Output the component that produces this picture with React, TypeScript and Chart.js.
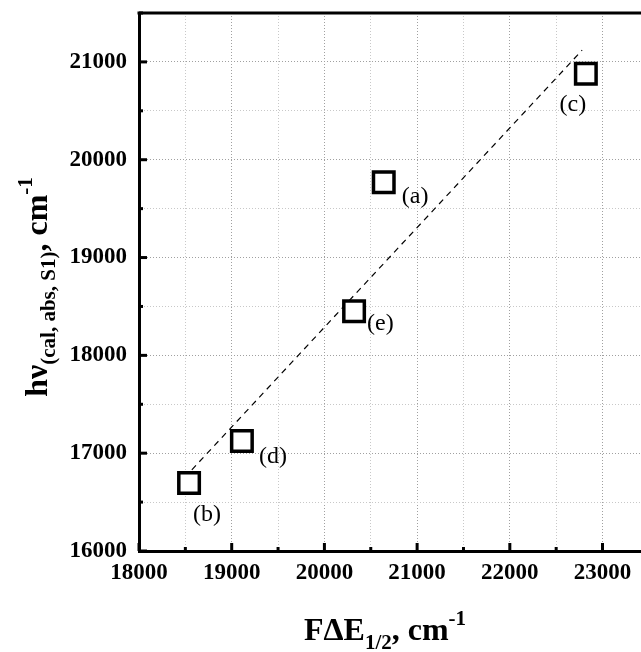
import React, { useEffect, useRef } from 'react';
import { Chart, registerables } from 'chart.js';

Chart.register(...registerables);

// ---- data ----
const pointNames = ['(a)', '(b)', '(c)', '(d)', '(e)'];
const xValues = [20640, 18540, 22820, 19110, 20320];
const yValues = [19770, 16695, 20880, 17125, 18450];
const fitX = [18570, 22780];
const fitY = [16830, 21120];
const xTickLabels = [18000, 19000, 20000, 21000, 22000, 23000];
const yTickLabels = [16000, 17000, 18000, 19000, 20000, 21000];
const X_MIN = 18000;
const X_MAX = 23415;
const Y_MIN = 16000;
const Y_MAX = 21500;
const MINOR_STEP = 500;

// ---- layout / style (not data) ----
const SERIF = "'Liberation Serif', 'Times New Roman', serif";
// label placement relative to marker centre: [dx, dy, align]
const labelPlacement: [number, number, CanvasTextAlign][] = [
  [18, 14, 'left'],
  [18, 32, 'center'],
  [-13, 31, 'center'],
  [17, 16, 'left'],
  [13, 12, 'left'],
];

type Part = { t: string; size: number; dy?: number };

function drawRich(ctx: CanvasRenderingContext2D, parts: Part[], cx: number, baseY: number) {
  let total = 0;
  const widths = parts.map((p) => {
    ctx.font = `bold ${p.size}px ${SERIF}`;
    const w = ctx.measureText(p.t).width;
    total += w;
    return w;
  });
  let x = cx - total / 2;
  ctx.textAlign = 'left';
  ctx.textBaseline = 'alphabetic';
  parts.forEach((p, i) => {
    ctx.font = `bold ${p.size}px ${SERIF}`;
    ctx.fillText(p.t, x, baseY + (p.dy || 0));
    x += widths[i];
  });
}

function buildTicks(majors: number[], max: number) {
  const out: { value: number; major: boolean }[] = [];
  majors.forEach((v) => {
    out.push({ value: v, major: true });
    if (v + MINOR_STEP <= max) out.push({ value: v + MINOR_STEP, major: false });
  });
  return out;
}

const decorPlugin = {
  id: 'decor',
  afterDatasetsDraw(chart: any) {
    const { ctx, chartArea } = chart;
    const xs = chart.scales.x;
    const ys = chart.scales.y;
    ctx.save();
    ctx.strokeStyle = '#000';
    ctx.lineWidth = 3;
    // top frame line
    ctx.beginPath();
    ctx.moveTo(chartArea.left - 1.5, chartArea.top);
    ctx.lineTo(chartArea.right + 2, chartArea.top);
    ctx.stroke();
    // inward ticks
    xs.ticks.forEach((t: any) => {
      const px = xs.getPixelForValue(t.value);
      const len = t.major ? 8 : 4;
      ctx.beginPath();
      ctx.moveTo(px, chartArea.bottom);
      ctx.lineTo(px, chartArea.bottom - len);
      ctx.stroke();
    });
    ys.ticks.forEach((t: any) => {
      const py = ys.getPixelForValue(t.value);
      const len = t.major ? 8 : 4;
      ctx.beginPath();
      ctx.moveTo(chartArea.left, py);
      ctx.lineTo(chartArea.left + len, py);
      ctx.stroke();
    });
    // point labels
    const meta = chart.getDatasetMeta(0);
    ctx.fillStyle = '#000';
    ctx.font = `24px ${SERIF}`;
    ctx.textBaseline = 'middle';
    meta.data.forEach((el: any, i: number) => {
      const [dx, dy, align] = labelPlacement[i];
      ctx.textAlign = align;
      ctx.fillText(pointNames[i], el.x + dx, el.y + dy);
    });
    // axis titles
    ctx.fillStyle = '#000';
    drawRich(
      ctx,
      [
        { t: 'FΔE', size: 32 },
        { t: '1/2', size: 21, dy: 9 },
        { t: ', cm', size: 32 },
        { t: '-1', size: 21, dy: -15 },
      ],
      385,
      640
    );
    ctx.save();
    ctx.translate(47, 287);
    ctx.rotate(-Math.PI / 2);
    drawRich(
      ctx,
      [
        { t: 'hν', size: 32 },
        { t: '(cal, abs, S1)', size: 21, dy: 8 },
        { t: ', cm', size: 32 },
        { t: '-1', size: 21, dy: -15 },
      ],
      0,
      0
    );
    ctx.restore();
    ctx.restore();
  },
};

export default function App() {
  const ref = useRef<HTMLCanvasElement>(null);
  useEffect(() => {
    const gridColor = (c: any) => (c.tick && c.tick.major ? '#a0a0a0' : '#c8c8c8');
    const tickFont = { family: SERIF, size: 23, weight: 'bold' };
    const chart = new Chart(ref.current!, {
      type: 'scatter',
      data: {
        datasets: [
          {
            data: xValues.map((x, i) => ({ x, y: yValues[i] })),
            pointStyle: 'rect',
            pointRadius: 14.5,
            pointHoverRadius: 14.5,
            pointBorderWidth: 3.5,
            borderColor: '#000',
            backgroundColor: '#fff',
            showLine: false,
            clip: false,
          },
          {
            data: fitX.map((x, i) => ({ x, y: fitY[i] })),
            showLine: true,
            borderColor: '#000',
            borderWidth: 1.2,
            borderDash: [6, 5],
            pointRadius: 0,
            fill: false,
          },
        ],
      },
      options: {
        responsive: false,
        animation: false,
        events: [],
        layout: { autoPadding: false, padding: { top: 13, right: 0, left: 0, bottom: 0 } },
        plugins: { legend: { display: false }, tooltip: { enabled: false } },
        scales: {
          x: {
            type: 'linear',
            min: X_MIN,
            max: X_MAX,
            afterBuildTicks: (s: any) => {
              s.ticks = buildTicks(xTickLabels, X_MAX);
            },
            afterFit: (s: any) => {
              s.height = 101;
              s.paddingLeft = 0;
              s.paddingRight = 0;
            },
            ticks: {
              autoSkip: false,
              maxRotation: 0,
              padding: 8,
              color: '#000',
              font: tickFont,
              callback: (v: any) => (xTickLabels.includes(Number(v)) ? String(v) : ''),
            },
            grid: { color: gridColor, lineWidth: 1, drawTicks: false },
            border: { display: true, color: '#000', width: 3, dash: [1, 2] },
          },
          y: {
            type: 'linear',
            min: Y_MIN,
            max: Y_MAX,
            afterBuildTicks: (s: any) => {
              s.ticks = buildTicks(yTickLabels, Y_MAX);
            },
            afterFit: (s: any) => {
              s.width = 139;
              s.paddingTop = 0;
              s.paddingBottom = 0;
            },
            ticks: {
              autoSkip: false,
              padding: 12,
              color: '#000',
              font: tickFont,
              callback: (v: any) => (yTickLabels.includes(Number(v)) ? String(v) : ''),
            },
            grid: { color: gridColor, lineWidth: 1, drawTicks: false },
            border: { display: true, color: '#000', width: 3, dash: [1, 2] },
          },
        },
      },
      plugins: [decorPlugin],
    } as any);
    return () => chart.destroy();
  }, []);
  return (
    <div style={{ position: 'absolute', left: 0, top: 0, width: 641, height: 652, overflow: 'hidden', background: '#fff' }}>
      <canvas ref={ref} width={641} height={652} style={{ display: 'block' }} />
    </div>
  );
}
